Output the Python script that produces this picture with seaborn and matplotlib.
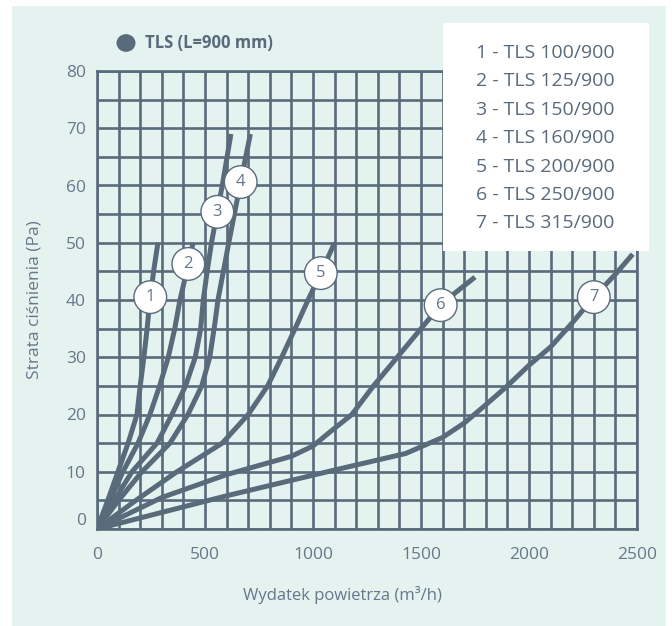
import matplotlib
matplotlib.use("Agg")
import matplotlib.pyplot as plt
from matplotlib.patches import Rectangle, Circle
import seaborn as sns
import numpy as np
import pandas as pd

# curve data (airflow m3/h, pressure loss Pa)
x1 = [0, 50, 97, 144, 185, 200, 217, 232, 245, 262, 282]
y1 = [0, 5, 10, 15, 20, 25, 30, 35, 40, 45, 50]
x2 = [0, 60, 120, 190, 245, 290, 330, 360, 384, 415, 445]
y2 = [0, 5, 10, 15, 20, 25, 30, 35, 40, 45, 50]
x3 = [0, 80, 162, 278, 347, 410, 455, 480, 492, 510, 530, 555, 580, 620]
y3 = [0, 5, 10, 15, 20, 25, 30, 35, 40, 45, 50, 55, 60, 69]
x4 = [0, 100, 208, 338, 421, 485, 522, 546, 560, 585, 610, 636, 662, 710]
y4 = [0, 5, 10, 15, 20, 25, 30, 36, 40, 45, 50, 55, 60, 69]
x5 = [0, 180, 370, 580, 700, 790, 855, 917, 977, 1040, 1100]
y5 = [0, 5, 10, 15, 20, 25, 30, 35, 40, 45, 50]
x6 = [0, 300, 600, 900, 1000, 1080, 1180, 1280, 1390, 1500, 1600, 1750]
y6 = [0, 5.5, 9.5, 12.7, 14.5, 17, 20, 25, 30, 35, 39.5, 44]
x7 = [0, 600, 1100, 1430, 1600, 1700, 1800, 1900, 2000, 2100, 2200, 2300, 2400, 2480]
y7 = [0, 5.8, 10.3, 13.2, 16, 18.5, 21.7, 25, 28.6, 31.8, 36, 40.5, 44.5, 48]

curve_x = [x1, x2, x3, x4, x5, x6, x7]
curve_y = [y1, y2, y3, y4, y5, y6, y7]
# pressure level where each number badge sits on its curve
badge_y = [40.5, 46.3, 55.4, 60.6, 44.7, 39.1, 40.5]

legend_labels = ["1 - TLS 100/900", "2 - TLS 125/900", "3 - TLS 150/900",
                 "4 - TLS 160/900", "5 - TLS 200/900", "6 - TLS 250/900",
                 "7 - TLS 315/900"]
x_ticks = [0, 500, 1000, 1500, 2000, 2500]
y_ticks = [0, 10, 20, 30, 40, 50, 60, 70, 80]

dark = "#596a7b"
text_c = "#67778a"
bg = "#e5f3f0"

sns.set_theme(style="white")
plt.rcParams["font.family"] = ["Open Sans", "DejaVu Sans"]

rows = []
for i, (xs, ys) in enumerate(zip(curve_x, curve_y)):
    for a, b in zip(xs, ys):
        rows.append({"curve": str(i + 1), "flow": a, "dp": b})
df = pd.DataFrame(rows)

fig = plt.figure(figsize=(6.72, 6.26), dpi=100, facecolor="white")
fig.patches.append(Rectangle((12 / 672, 0), 654 / 672, 620 / 626,
                             transform=fig.transFigure, facecolor=bg,
                             edgecolor="none", zorder=-5))

ax = fig.add_axes([97 / 672, 1 - 529 / 626, 540 / 672, 458 / 626])
ax.set_facecolor(bg)

sns.lineplot(data=df, x="flow", y="dp", units="curve", estimator=None,
             color=dark, lw=3.6, ax=ax, legend=False, zorder=3,
             solid_capstyle="butt")

ax.set_xlim(0, 2500)
ax.set_ylim(0, 80)
ax.set_xticks(x_ticks)
ax.set_yticks(y_ticks)
ax.set_xticks(np.arange(0, 2501, 100), minor=True)
ax.set_yticks(np.arange(0, 81, 5), minor=True)
ax.grid(True, which="both", color=dark, lw=1.9)
ax.set_axisbelow(True)
ax.tick_params(which="both", length=0)
ax.tick_params(axis="x", pad=13, labelsize=12.5, labelcolor=text_c)
ax.tick_params(axis="y", pad=8, labelsize=12.5, labelcolor=text_c)
# the "0" on the y axis sits a bit above the bottom line
ax.get_yticklabels()[0].set_va("bottom")
for s in ax.spines.values():
    s.set_color(dark)
    s.set_linewidth(1.9)

ax.set_xlabel("Wydatek powietrza (m³/h)", fontsize=12, color=text_c)
ax.set_ylabel("Strata ciśnienia (Pa)", fontsize=12.5, color=text_c)
ax.xaxis.set_label_coords(0.455, -0.144)
ax.xaxis.label.set_va("center")
ax.yaxis.set_label_coords(-0.115, 0.5)
ax.yaxis.label.set_va("center")

# numbered badges on the curves
for i, (xs, ys) in enumerate(zip(curve_x, curve_y)):
    bx = np.interp(badge_y[i], ys, xs)
    ax.text(bx, badge_y[i], str(i + 1), ha="center", va="center",
            fontsize=12, color=text_c, zorder=5,
            bbox=dict(boxstyle="circle,pad=0.5", fc="white", ec=dark, lw=1))

# series title top left
fig.patches.append(Circle((126 / 672, 1 - 43 / 626), 9.5 / 672,
                          transform=fig.transFigure, facecolor=dark,
                          edgecolor="none", zorder=3))
fig.text(145 / 672, 1 - 43 / 626, "TLS (L=900 mm)", fontsize=12,
         fontweight="bold", color=dark, va="center", ha="left")

# white legend box
fig.patches.append(Rectangle((443 / 672, 1 - 251 / 626), 206 / 672, 228 / 626,
                             transform=fig.transFigure, facecolor="white",
                             edgecolor="none", zorder=4))
for k, lab in enumerate(legend_labels):
    fig.text(545 / 672, 1 - (53 + k * 28.4) / 626, lab, fontsize=14,
             color=dark, ha="center", va="center", zorder=5)

fig.savefig("out.png", dpi=100, facecolor="white")
